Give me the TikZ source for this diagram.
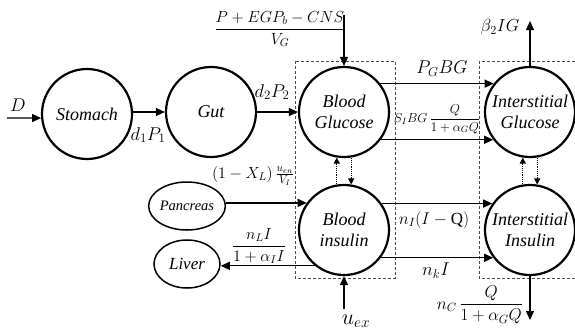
\RequirePackage{fix-cm}
\documentclass[tikz,border=0pt]{standalone}
\usepackage{fontspec}
\setmainfont{Liberation Serif}
\usepackage{amsmath}
\usetikzlibrary{arrows.meta,shapes.geometric}

\begin{document}
\begin{tikzpicture}[x=1pt,y=-1pt,
  comp/.style={circle,draw,line width=2.2pt,minimum size=90pt,inner sep=0pt,
    align=center,font=\fontsize{18}{21}\selectfont\itshape},
  organ/.style={ellipse,draw,line width=1.5pt,minimum width=66pt,minimum height=48pt,
    inner sep=0pt},
  lbl/.style={inner sep=0pt,font=\fontsize{16}{19}\selectfont},
  biglbl/.style={inner sep=0pt,font=\fontsize{18.5}{21}\selectfont},
  smalllbl/.style={inner sep=0pt,font=\fontsize{13}{15}\selectfont},
  arr/.style={-{Triangle[length=9pt,width=8pt]},line width=1.3pt},
  dotarr/.style={-{Triangle[length=6pt,width=6pt]},line width=1.2pt,densely dotted},
  group/.style={draw=black!70,line width=0.8pt,dash pattern=on 3pt off 2pt}]
\useasboundingbox (0,0) rectangle (575,333);

% compartment groups
\draw[group] (295,61) rectangle (395,278);
\draw[group] (479,61) rectangle (595,278);

% compartments
\node[comp] (St) at (87,114) {Stomach};
\node[comp] (Gut) at (211,112) {Gut};
\node[comp] (BG) at (344,112) {Blood\\Glucose};
\node[comp] (IG) at (530,112) {Interstitial\\Glucose};
\node[comp] (BI) at (344,230) {Blood\\insulin};
\node[comp] (II) at (530,230) {Interstitial\\Insulin};
\node[organ,font=\fontsize{14.5}{17}\selectfont\itshape] (Pan) at (187,206) {Pancreas};
\node[organ,font=\fontsize{17}{19}\selectfont\itshape] (Liv) at (187,264) {Liver};

% free ends of the inputs and outputs
\coordinate (Din) at (7,118);
\coordinate (Gin) at (344,15);
\coordinate (IGout) at (530,21);
\coordinate (Uin) at (344,309);
\coordinate (IIout) at (530,320);

% meal absorption
\draw[arr] (Din) -- (St.185);
\draw[arr] (St.east |- Gut.west) -- (Gut.west);
\draw[arr] (Gut.east) -- (BG.west);
\draw[arr] (Gin) -- (BG.north);

% glucose exchange
\draw[arr] (BG.38) -- (IG.142);
\draw[arr] (BG.-37) -- (IG.217);
\draw[arr] (IG.north) -- (IGout);

% insulin exchange
\draw[arr] (Pan.east |- BI.144) -- (BI.144);
\draw[arr] (BI.231) -- (BI.231 -| Liv.east);
\draw[arr] (BI.35) -- (II.145);
\draw[arr] (BI.-37) -- (II.217);
\draw[arr] (Uin) -- (BI.south);
\draw[arr] (II.south) -- (IIout);

% coupling between glucose and insulin
\draw[dotarr] (BI.99) -- (BG.261);
\draw[dotarr] (BG.279) -- (BI.81);
\draw[dotarr] (II.99) -- (IG.261);
\draw[dotarr] (IG.279) -- (II.81);

% rate labels
\node[biglbl] (lD) at (18,105) {$D$};
\node[biglbl] (lP1) at (148,135) {$d_1P_1$};
\node[biglbl] (lP2) at (272,92) {$d_2P_2$};
\node[lbl] (lEGP) at (280,29) {$\dfrac{P+EGP_b-CNS}{V_G}$};
\node[biglbl] (lPG) at (442,69) {$P_GBG$};
\node[smalllbl] (lSI) at (437,119) {$S_IBG\,\dfrac{Q}{1+\alpha_GQ}$};
\node[lbl,font=\fontsize{17.5}{20}\selectfont] (lbeta) at (500,27) {$\beta_2IG$};
\node[lbl] (len) at (253,176) {$(1-X_L)\,\tfrac{u_{en}}{V_I}$};
\node[lbl] (lnL) at (259,246) {$\dfrac{n_LI}{1+\alpha_II}$};
\node[lbl,font=\fontsize{17}{20}\selectfont] (lnI) at (434,220) {$n_I(I-\mathrm{Q})$};
\node[biglbl] (lnk) at (436,271) {$n_kI$};
\node[lbl,font=\fontsize{17}{20}\selectfont] (lnC) at (480,305) {$n_C\,\dfrac{Q}{1+\alpha_GQ}$};
\node[inner sep=0pt,font=\fontsize{22}{24}\selectfont] (luex) at (356,321) {$u_{ex}$};
\end{tikzpicture}
\end{document}
